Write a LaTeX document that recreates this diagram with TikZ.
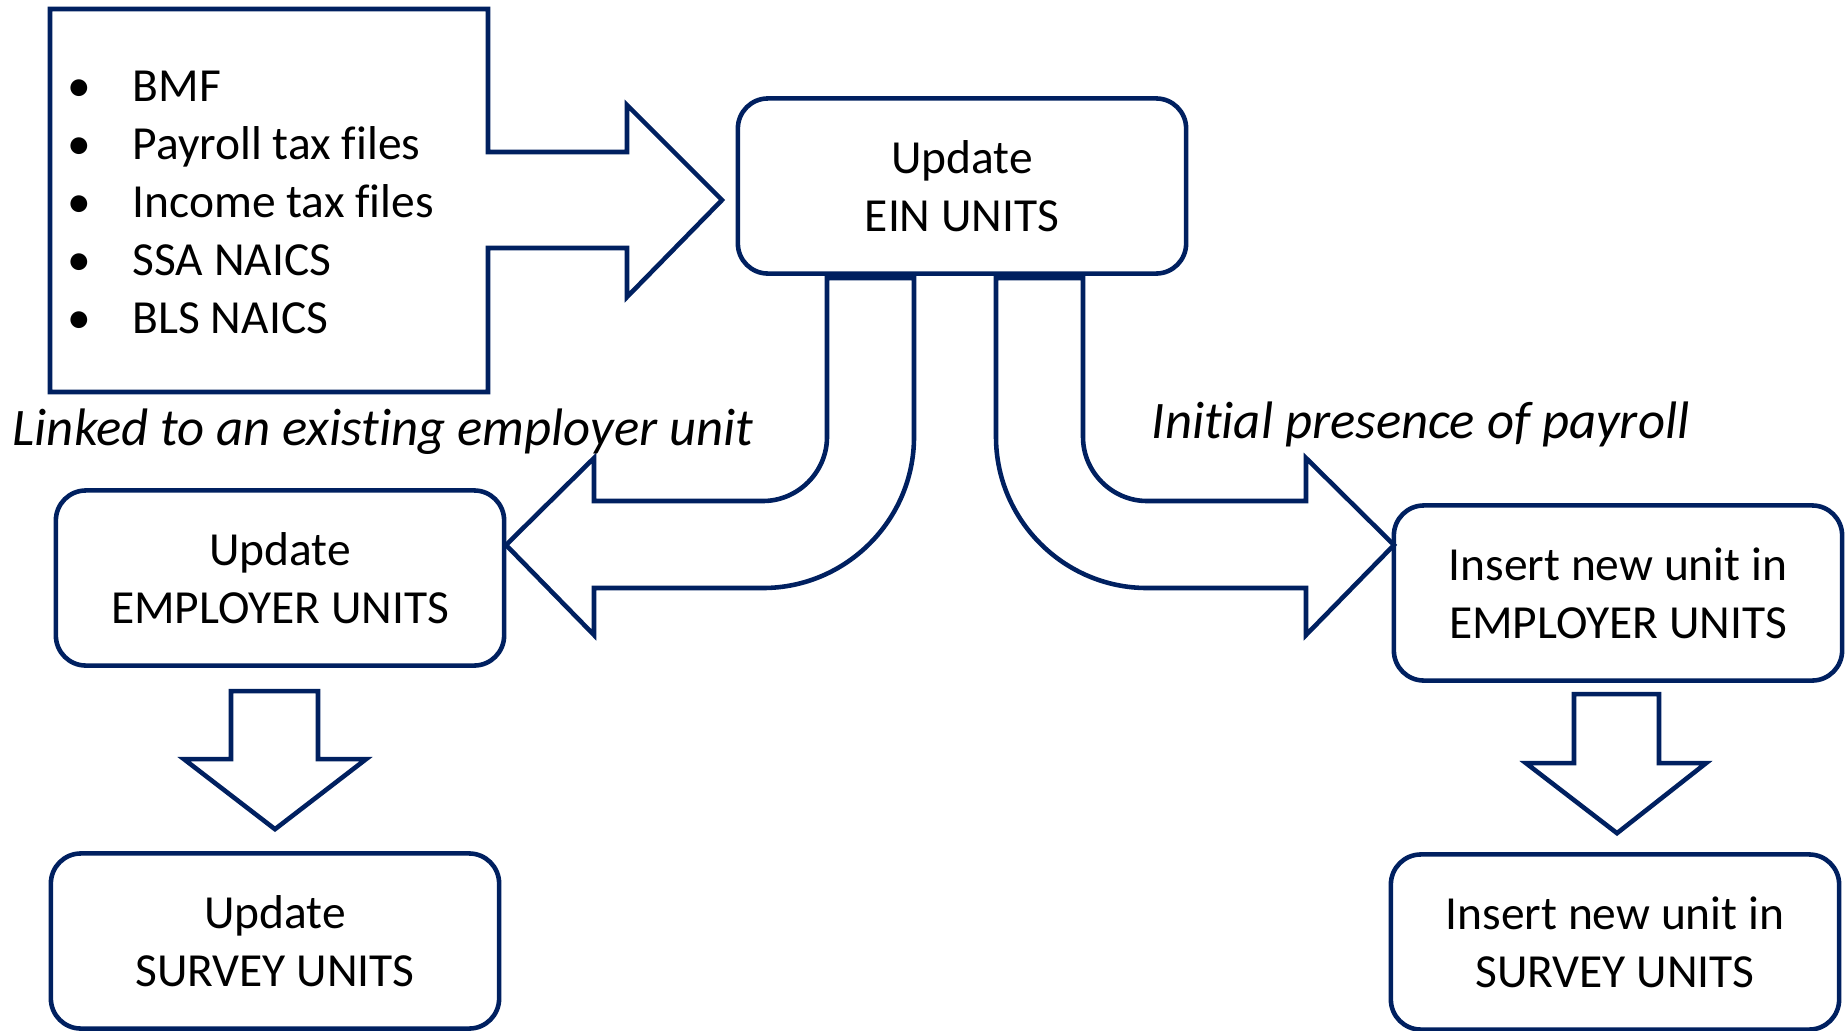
\documentclass[tikz,border=0pt]{standalone}
\usepackage{fontspec}
\setmainfont{Carlito}[RawFeature={-liga;-clig;-calt}]
\usetikzlibrary{calc}
\definecolor{einblue}{RGB}{0,32,96}
\tikzset{
    unitbox/.style={draw=einblue,line width=1.3pt,rounded corners=0.3cm,minimum width=4.48cm,minimum height=1.75cm,align=center,inner sep=0pt,font=\fontsize{13.5}{16.5}\selectfont},
    blockarrow/.style={draw=einblue,line width=1.3pt,line join=miter,fill=white},
    itemtext/.style={anchor=base west,inner sep=0pt,font=\fontsize{13.5}{16.5}\selectfont},
    pathlabel/.style={anchor=base west,inner sep=0pt,font=\fontsize{15}{18}\selectfont\itshape}
}

\begin{document}
\begin{tikzpicture}[x=0.01cm,y=-0.01cm]
    \pgfmathsetmacro{\itemtop}{101}
    \pgfmathsetmacro{\itemskip}{58}
    \pgfmathsetmacro{\bulletx}{79}
    \pgfmathsetmacro{\itemx}{132}
    \useasboundingbox (0,0) rectangle (1845,1030);
    % source files box with its arrow
    \draw[blockarrow] (50,9) -- (488,9) -- (488,152) -- (627,152) -- (627,105) -- (722,200) -- (627,297) -- (627,248) -- (488,248) -- (488,392) -- (50,392) -- cycle;
    \foreach \txt [count=\i from 0] in {BMF,Payroll tax files,Income tax files,SSA NAICS,BLS NAICS} {
        \node[itemtext,anchor=base] (bullet\i) at (\bulletx,{\itemtop+\itemskip*\i}) {\textbullet};
        \node[itemtext] (item\i) at (\itemx,{\itemtop+\itemskip*\i}) {\txt};
    }
    % curved arrows out of EIN UNITS
    \draw[blockarrow] (827,278) -- (827,437) .. controls (827,472) and (798,501) .. (763,501) -- (594,501) -- (594,458) -- (506,545) -- (594,635) -- (594,588) -- (763,588) .. controls (846,588) and (914,520) .. (914,437) -- (914,278) -- cycle;
    \draw[blockarrow] (1083,278) -- (1083,437) .. controls (1083,472) and (1112,501) .. (1147,501) -- (1306,501) -- (1306,458) -- (1394,545) -- (1306,635) -- (1306,588) -- (1147,588) .. controls (1064,588) and (996,520) .. (996,437) -- (996,278) -- cycle;
    \node[unitbox] (ein) at (962,186) {Update\\EIN UNITS};
    \node[unitbox] (emp) at (280,578) {Update\\EMPLOYER UNITS};
    \node[unitbox] (survey) at (275,941) {Update\\SURVEY UNITS};
    \node[unitbox] (newemp) at (1618,593) {Insert new unit in\\EMPLOYER UNITS};
    \node[unitbox] (newsurvey) at (1615,942) {Insert new unit in\\SURVEY UNITS};
    \node[pathlabel] (linked) at (12,445) {Linked to an existing employer unit};
    \node[pathlabel] (initial) at (1151,438) {Initial presence of payroll};
    % down arrows
    \draw[blockarrow] ($(survey.north)+(0,-22)$) -- ++(-91,-70) -- ++(47,0) -- ++(0,-68) -- ++(87,0) -- ++(0,68) -- ++(48,0) -- cycle;
    \draw[blockarrow] ($(newsurvey.north)+(2,-19)$) -- ++(-91,-70) -- ++(48,0) -- ++(0,-69) -- ++(85,0) -- ++(0,69) -- ++(47,0) -- cycle;
\end{tikzpicture}
\end{document}
